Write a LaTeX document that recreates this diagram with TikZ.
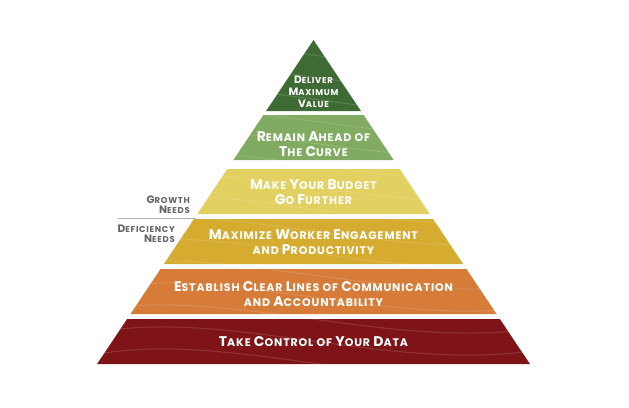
\documentclass[tikz,border=0pt]{standalone}
\usepackage{fontspec}
\setmainfont{Poppins}[LetterSpace=8]
\usetikzlibrary{positioning}
\definecolor{pgDark}{RGB}{62,107,52}
\definecolor{pgLeaf}{RGB}{128,171,96}
\definecolor{pgStraw}{RGB}{226,208,96}
\definecolor{pgGold}{RGB}{213,172,48}
\definecolor{pgOrange}{RGB}{214,123,56}
\definecolor{pgRed}{RGB}{126,20,23}
\definecolor{pgGray}{RGB}{100,100,104}
\definecolor{pgLine}{RGB}{176,176,176}
\newcommand\hisz{\fontsize{14}{15}\selectfont}
\newcommand\losz{\fontsize{11}{15}\selectfont}
\newcommand\SC[2]{{\hisz #1}\MakeUppercase{#2}}
\newcommand\SCs[2]{{\fontsize{10.7}{12}\selectfont #1}\MakeUppercase{#2}}
\tikzset{lbl/.style = {text=white, align=center, inner sep=0, font=\bfseries\losz}}
\tikzset{toplbl/.style = {lbl, font=\bfseries\fontsize{8.5}{12}\selectfont}}
\tikzset{side/.style = {text=pgGray, align=right, inner sep=0, anchor=east,
                        font=\bfseries\fontsize{8.5}{9.6}\selectfont}}
\tikzset{wave/.style = {white, opacity=0.13, line width=1.1}}

\begin{document}
\begin{tikzpicture}[x=1pt, y=-1pt]
  \useasboundingbox (0,0) rectangle (629,407);

  % pyramid layers
  \fill [pgDark] (313.5,40) -- ({313.5+71*0.668},111) -- ({313.5-71*0.668},111) -- cycle;
  \foreach \t/\c in {115/pgLeaf, 169/pgStraw, 219/pgGold, 269/pgOrange, 319/pgRed}{
    \pgfmathsetmacro\b{\t+45}
    \fill [\c] ({313.5-(\t-40)*0.668},\t) -- ({313.5+(\t-40)*0.668},\t)
      -- ({313.5+(\b-40)*0.668},\b) -- ({313.5-(\b-40)*0.668},\b) -- cycle;
  }

  % faint texture
  \begin{scope}
    \clip (313.5,40) -- (530,364) -- (97,364) -- cycle;
    \foreach \y in {50,72,...,400}{
      \draw [wave] (80,\y) .. controls (220,\y-35) and (400,\y+45) .. (560,\y+10);
    }
  \end{scope}

  \draw [pgLine, line width=0.6] (118,218) -- (196,218);

  \node [toplbl] (value) at (313.5,92) {\SCs{D}{eliver}\\\SCs{M}{aximum}\\\SCs{V}{alue}};
  \node [lbl] (curve) at (313.5,144) {\SC{R}{emain} \SC{A}{head} OF\\\SC{T}{he} \SC{C}{urve}};
  \node [lbl] (budget) at (313.5,192) {\SC{M}{ake} \SC{Y}{our} \SC{B}{udget}\\\SC{G}{o} \SC{F}{urther}};
  \node [lbl] (worker) at (313.5,242) {\SC{M}{aximize} \SC{W}{orker} \SC{E}{ngagement}\\AND \SC{P}{roductivity}};
  \node [lbl] (lines) at (313.5,294.5) {\SC{E}{stablish} \SC{C}{lear} \SC{L}{ines} OF \SC{C}{ommunication}\\AND \SC{A}{ccountability}};
  \node [lbl] (data) at (313.5,342) {\SC{T}{ake} \SC{C}{ontrol} OF \SC{Y}{our} \SC{D}{ata}};

  \node [side] (growth) at (190,205) {\SCs{G}{rowth}\\\SCs{N}{eeds}};
  \node [side] (deficiency) at (175,234) {\SCs{D}{eficiency}\\\SCs{N}{eeds}};
\end{tikzpicture}
\end{document}
